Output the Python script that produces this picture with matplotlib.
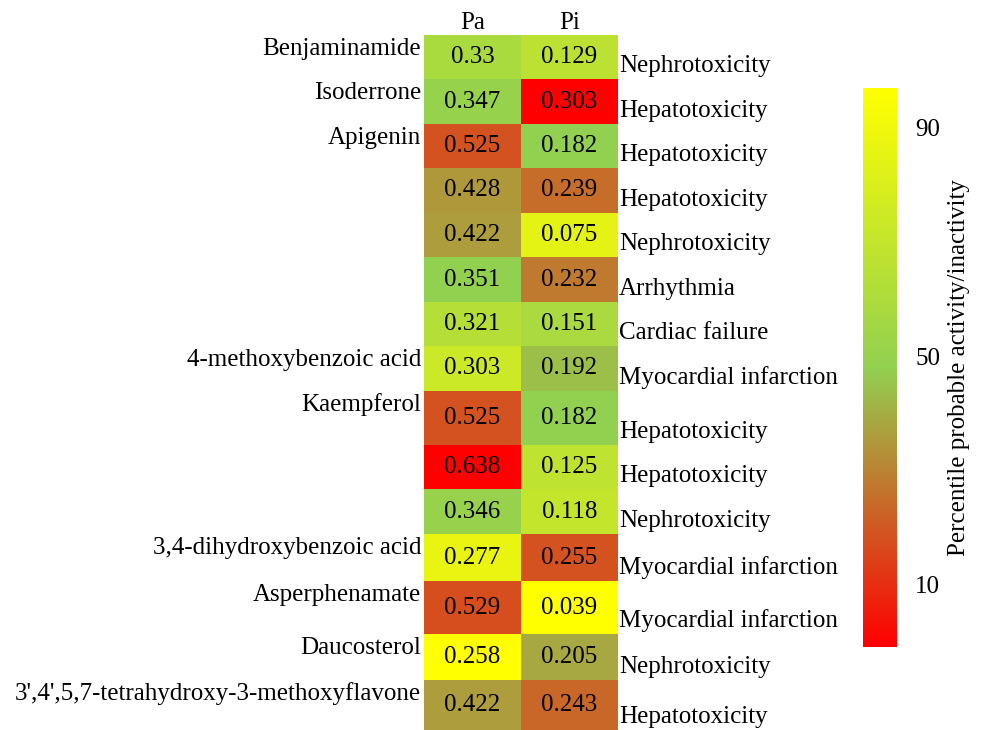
import numpy as np
import matplotlib.pyplot as plt
import matplotlib as mpl
from matplotlib.colors import LinearSegmentedColormap, TwoSlopeNorm, Normalize

plt.rcParams['font.family'] = ['Liberation Serif', 'DejaVu Serif']

# =========================
# DADOS
# =========================
columns = ["Pa", "Pi"]
compounds = ["Benjaminamide", "Isoderrone", "Apigenin", "", "", "", "",
             "4-methoxybenzoic acid", "Kaempferol", "", "",
             "3,4-dihydroxybenzoic acid", "Asperphenamate", "Daucosterol",
             "3',4',5,7-tetrahydroxy-3-methoxyflavone"]
toxicity = ["Nephrotoxicity", "Hepatotoxicity", "Hepatotoxicity", "Hepatotoxicity",
            "Nephrotoxicity", "Arrhythmia", "Cardiac failure", "Myocardial infarction",
            "Hepatotoxicity", "Hepatotoxicity", "Nephrotoxicity", "Myocardial infarction",
            "Myocardial infarction", "Nephrotoxicity", "Hepatotoxicity"]
pa = [0.33, 0.347, 0.525, 0.428, 0.422, 0.351, 0.321, 0.303, 0.525, 0.638,
      0.346, 0.277, 0.529, 0.258, 0.422]
pi = [0.129, 0.303, 0.182, 0.239, 0.075, 0.232, 0.151, 0.192, 0.182, 0.125,
      0.118, 0.255, 0.039, 0.205, 0.243]
cbar_ticks = [10, 50, 90]

# layout (alturas das linhas em px, como na tabela original)
row_heights = [44, 45, 44, 45, 44, 45, 44, 45, 54, 44, 45, 47, 53, 46, 50]
fs = 18

cmap = LinearSegmentedColormap.from_list("ryg", ["#FF0000", "#92D050", "#FFFF00"])

# escala de cor por coluna: min -> amarelo, mediana -> verde, max -> vermelho
vals = np.array([pa, pi]).T
scaled = np.zeros_like(vals)
for j in range(vals.shape[1]):
    col = vals[:, j]
    norm = TwoSlopeNorm(vcenter=np.median(col), vmin=col.min(), vmax=col.max())
    scaled[:, j] = 1 - norm(col)

edges = np.concatenate([[0], np.cumsum(row_heights)])
centers = (edges[:-1] + edges[1:]) / 2

fig = plt.figure(figsize=(9.87, 7.30), dpi=100)
ax = fig.add_axes([424/987, 0, 194/987, 695/730])

ax.pcolormesh([0, 1, 2], edges, scaled, cmap=cmap, vmin=0, vmax=1)
ax.set_xlim(0, 2)
ax.set_ylim(edges[-1], 0)

for i in range(len(pa)):
    for j in range(2):
        ax.text(j + 0.5, centers[i], "{:g}".format(vals[i, j]),
                ha="center", va="center", fontsize=fs)
    if compounds[i]:
        ax.text(-0.03, edges[i] + 14, compounds[i], ha="right", va="center", fontsize=fs)
    ax.text(2.01, edges[i + 1] - 13, toxicity[i], ha="left", va="center", fontsize=fs)

ax.xaxis.tick_top()
ax.set_xticks([0.5, 1.5])
ax.set_xticklabels(columns, fontsize=fs)
ax.tick_params(axis="x", length=0, pad=1)
ax.set_yticks([])
for s in ax.spines.values():
    s.set_visible(False)

# =========================
# COLORBAR
# =========================
cax = fig.add_axes([863/987, 83/730, 34/987, 559/730])
sm = mpl.cm.ScalarMappable(norm=Normalize(-1, 97), cmap=cmap)
cb = fig.colorbar(sm, cax=cax, ticks=cbar_ticks)
cb.outline.set_visible(False)
cb.ax.tick_params(length=0, pad=13, labelsize=fs)
cb.set_label("Percentile probable activity/inactivity", fontsize=fs, labelpad=6)

fig.savefig("out.png", dpi=100)
